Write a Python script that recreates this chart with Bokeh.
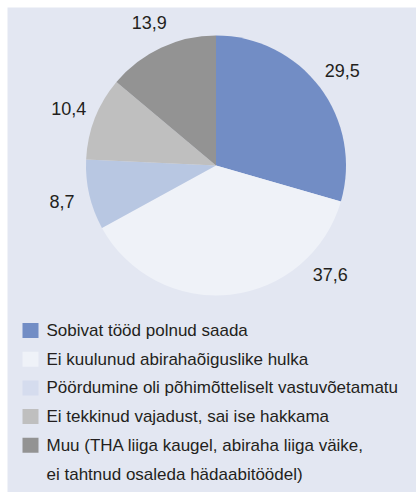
import numpy as np
from bokeh.plotting import figure
from bokeh.models import Range1d, ColumnDataSource
from bokeh.core.properties import value
from bokeh.embed import file_html
from bokeh.resources import INLINE

# ---- data ----
categories = [
    "Sobivat tööd polnud saada",
    "Ei kuulunud abirahaõiguslike hulka",
    "Pöördumine oli põhimõtteliselt vastuvõetamatu",
    "Ei tekkinud vajadust, sai ise hakkama",
    "Muu (THA liiga kaugel, abiraha liiga väike,\nei tahtnud osaleda hädaabitöödel)",
]
shares = [29.5, 37.6, 8.7, 10.4, 13.9]

# ---- style ----
slice_colors = ["#728dc5", "#eff2f8", "#b8c7e2", "#bfbfbf", "#939393"]
legend_colors = ["#728dc5", "#eff2f8", "#d5dcee", "#bfbfbf", "#939393"]
bg = "#e3e7f2"
text_color = "#231f20"
font = "Liberation Sans"
W, H = 416, 492
pad = 7
PW, PH = W - pad, H - pad
cx, cy, R = 208.5, 327, 130
label_r = 158
label_shift_deg = [0, 40, 0, 0, 0]
legend_x, legend_y0, legend_dy = 23, 162, 28.7
sw, sh = 16, 15

p = figure(width=W, height=H, output_backend="svg", toolbar_location=None,
           x_range=Range1d(0, PW), y_range=Range1d(0, PH),
           min_border_left=pad, min_border_top=pad,
           min_border_right=0, min_border_bottom=0)
p.background_fill_color = bg
p.border_fill_color = "white"
p.outline_line_color = None
p.axis.visible = False
p.grid.visible = False

vals = np.array(shares, dtype=float)
frac = vals / vals.sum()
cum = np.concatenate([[0], np.cumsum(frac)])
start = np.pi / 2 - cum[1:] * 2 * np.pi
end = np.pi / 2 - cum[:-1] * 2 * np.pi
pie = ColumnDataSource(dict(start=start, end=end, color=slice_colors))
p.wedge(x=cx, y=cy, radius=R, start_angle="start", end_angle="end",
        fill_color="color", line_color=None, source=pie)

mid = (start + end) / 2 + np.radians(label_shift_deg)
lab = ColumnDataSource(dict(
    x=cx + label_r * np.cos(mid), y=cy + label_r * np.sin(mid),
    t=[f"{v:.1f}".replace(".", ",") for v in shares]))
p.text(x="x", y="y", text="t", source=lab, text_align="center",
       text_baseline="middle", text_font=value(font), text_font_size="18px",
       text_color=text_color)

# legend
sq_y, ty, tt = [], [], []
row = 0
for c in categories:
    sq_y.append(legend_y0 - row * legend_dy)
    for line in c.split("\n"):
        ty.append(legend_y0 - row * legend_dy)
        tt.append(line)
        row += 1
p.rect(x=legend_x, y=sq_y, width=sw, height=sh, fill_color=legend_colors,
       line_color=None)
p.text(x=legend_x + 16, y=ty, text=tt, text_align="left",
       text_baseline="middle", text_font=value(font), text_font_size="17px",
       text_color=text_color)

open("out.html", "w").write(file_html(p, INLINE))
